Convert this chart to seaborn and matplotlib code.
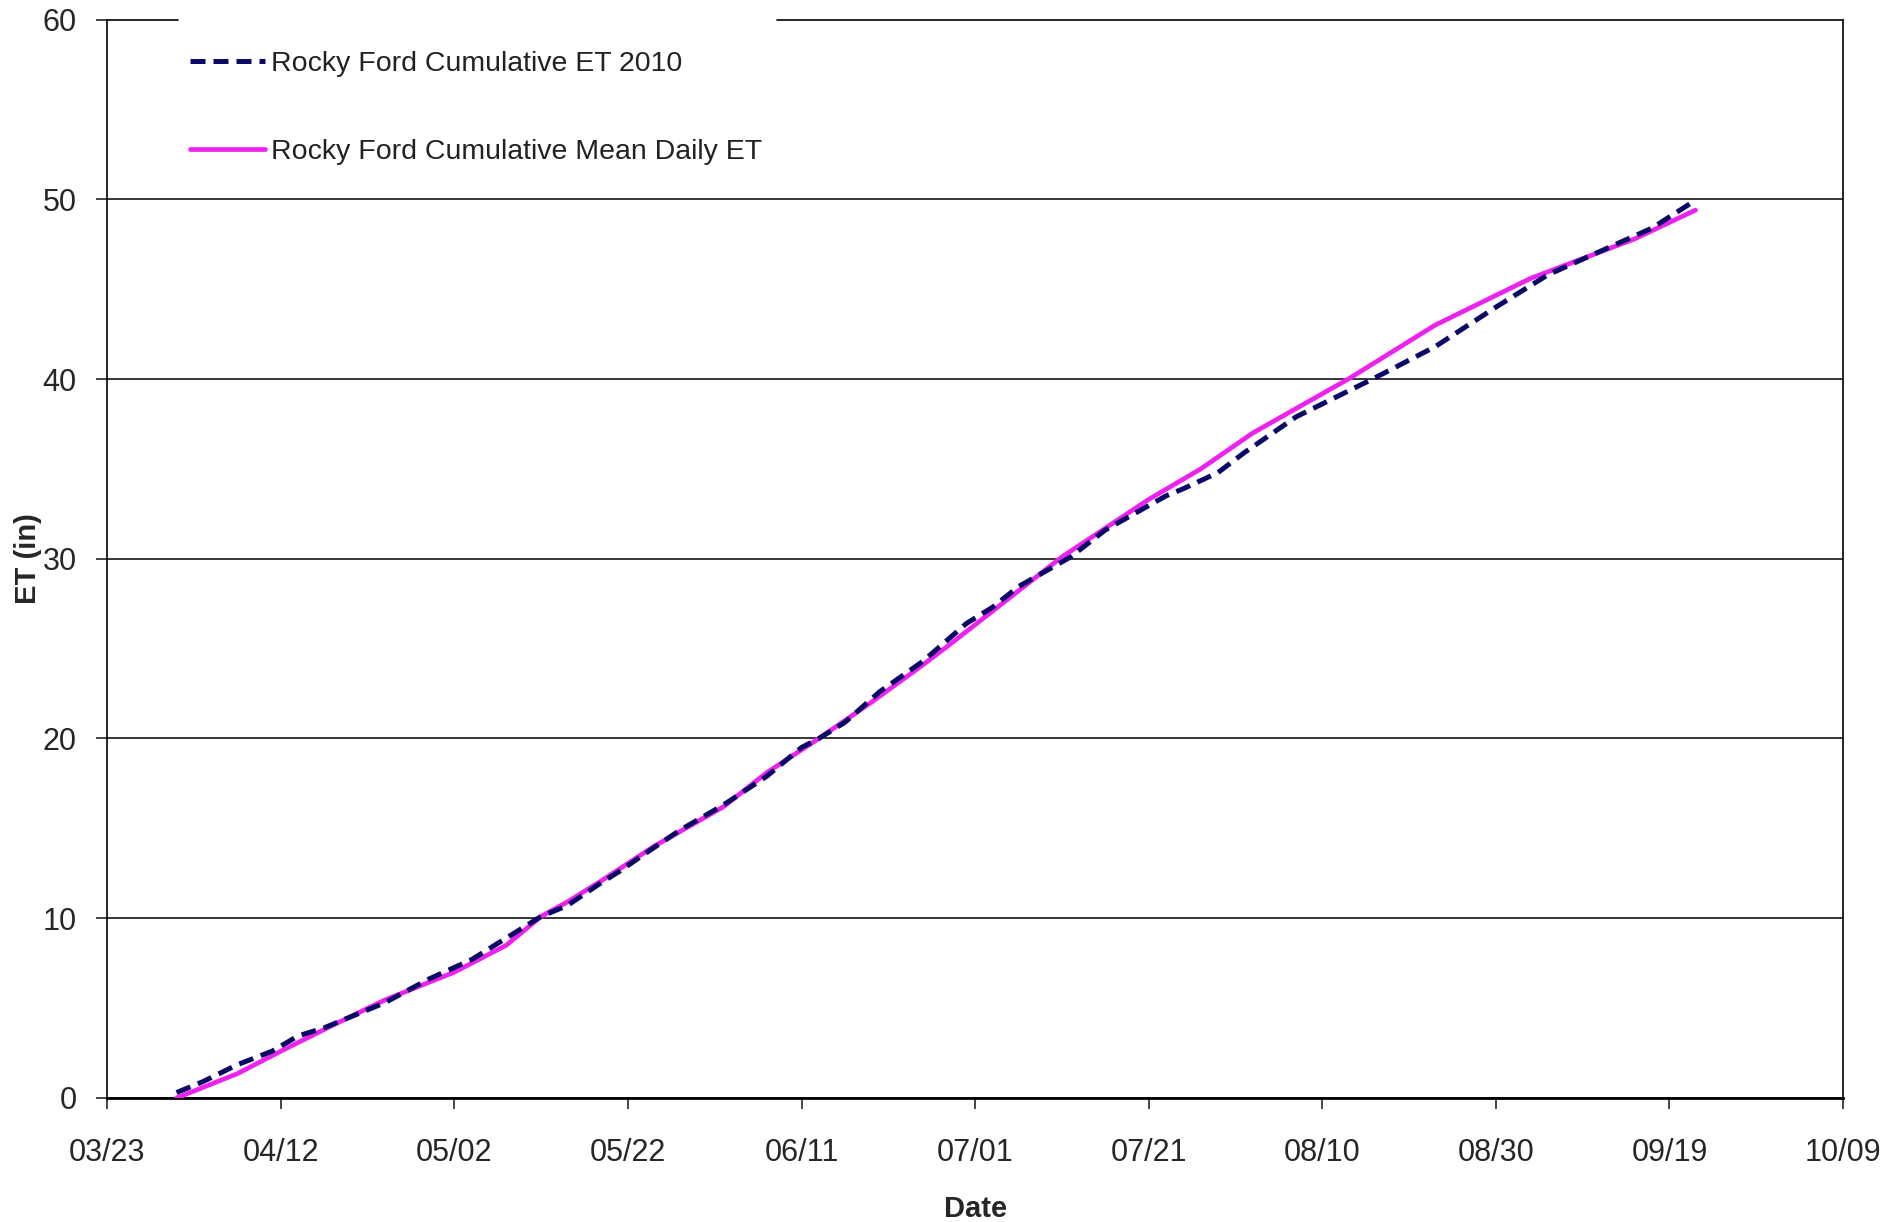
import matplotlib
matplotlib.use('Agg')
import matplotlib.pyplot as plt
import matplotlib.dates as mdates
import pandas as pd
import seaborn as sns

# Rocky Ford 2010 cumulative ET (in)
et2010_dates = ['03/31', '04/03', '04/07', '04/11', '04/14', '04/17', '04/20', '04/24', '04/29',
                '05/04', '05/08', '05/12', '05/15', '05/19', '05/21', '05/24', '05/28',
                '06/02', '06/07', '06/11', '06/13', '06/16', '06/20', '06/25', '06/30',
                '07/03', '07/06', '07/12', '07/16', '07/23', '07/25', '07/29',
                '08/01', '08/07', '08/16', '08/23', '08/30', '09/05', '09/11', '09/17', '09/22']
et2010 = [0.3, 0.9, 1.85, 2.6, 3.45, 3.9, 4.5, 5.3, 6.6,
          7.7, 8.9, 10.1, 10.7, 12.0, 12.6, 13.6, 14.9,
          16.3, 17.9, 19.5, 20.0, 20.9, 22.6, 24.3, 26.4,
          27.3, 28.45, 30.1, 31.6, 33.5, 33.9, 34.8,
          35.9, 37.9, 40.05, 41.8, 44.0, 45.8, 47.1, 48.4, 49.95]

# cumulative mean daily ET (in)
mean_dates = ['03/31', '04/07', '04/12', '04/18', '04/24', '05/02', '05/08', '05/12', '05/15',
              '05/19', '05/25', '06/02', '06/07', '06/13', '06/19', '06/25', '06/28',
              '07/11', '07/21', '07/27', '08/02', '08/13', '08/23', '09/03', '09/15', '09/22']
mean_et = [0.0, 1.35, 2.6, 4.05, 5.45, 7.0, 8.5, 10.1, 10.9,
           12.1, 14.0, 16.2, 18.1, 20.0, 22.0, 24.1, 25.2,
           30.1, 33.3, 35.0, 37.0, 40.0, 43.0, 45.6, 47.8, 49.4]

year = '2010'
x_start, x_end = '03/23', '10/09'
y_ticks = [0, 10, 20, 30, 40, 50, 60]

df_2010 = pd.DataFrame({'date': pd.to_datetime([year + '/' + d for d in et2010_dates]), 'et': et2010})
df_mean = pd.DataFrame({'date': pd.to_datetime([year + '/' + d for d in mean_dates]), 'et': mean_et})

sns.set_style('white')
plt.rcParams['font.family'] = ['Liberation Sans', 'DejaVu Sans']

fig, ax = plt.subplots(figsize=(18.89, 12.22), dpi=100)
fig.subplots_adjust(left=0.0567, right=0.9757, top=0.984, bottom=0.1015)

sns.lineplot(data=df_mean, x='date', y='et', ax=ax, color='#EE22EE', linewidth=3.4,
             label='Rocky Ford Cumulative Mean Daily ET', zorder=3)
sns.lineplot(data=df_2010, x='date', y='et', ax=ax, color='#0a0a66', linewidth=3.6,
             linestyle=(0, (3, 1.6)), label='Rocky Ford Cumulative ET 2010', zorder=4)

start = pd.Timestamp(year + '/' + x_start)
end = pd.Timestamp(year + '/' + x_end)
ax.set_xlim(start, end)
ax.set_xticks(pd.date_range(start, end, freq='20D'))
ax.xaxis.set_major_formatter(mdates.DateFormatter('%m/%d'))
ax.set_ylim(0, 60)
ax.set_yticks(y_ticks)

ax.yaxis.grid(True, color='black', linewidth=1.1)
ax.xaxis.grid(False)
ax.yaxis.get_gridlines()[-1].set_visible(False)
for s in ['left', 'right', 'bottom']:
    ax.spines[s].set_visible(True)
    ax.spines[s].set_color('black')
    ax.spines[s].set_linewidth(1.2)
ax.spines['bottom'].set_linewidth(2.0)
# top border is broken where the legend sits
ax.spines['top'].set_visible(False)
ax.axhline(60, xmin=0, xmax=0.041, color='black', linewidth=1.2, clip_on=False)
ax.axhline(60, xmin=0.386, xmax=1, color='black', linewidth=1.2, clip_on=False)

ax.tick_params(axis='x', bottom=True, direction='out', length=8, width=1.2, pad=21, labelsize=22)
ax.tick_params(axis='y', left=True, direction='out', length=8, width=1.2, pad=14, labelsize=22)

ax.set_xlabel('Date', fontsize=21, fontweight='bold', labelpad=19)
ax.set_ylabel('ET (in)', fontsize=21, fontweight='bold', labelpad=0)

handles, labels = ax.get_legend_handles_labels()
leg = ax.legend(handles[::-1], labels[::-1], loc='upper left', bbox_to_anchor=(0.0477, 0.971),
                fontsize=20.5, frameon=False, borderpad=0, handlelength=2.63, handletextpad=0.21,
                labelspacing=2.2, borderaxespad=0)
for t in leg.get_texts():
    t.set_color('#222222')

fig.savefig('out.png', dpi=100)
